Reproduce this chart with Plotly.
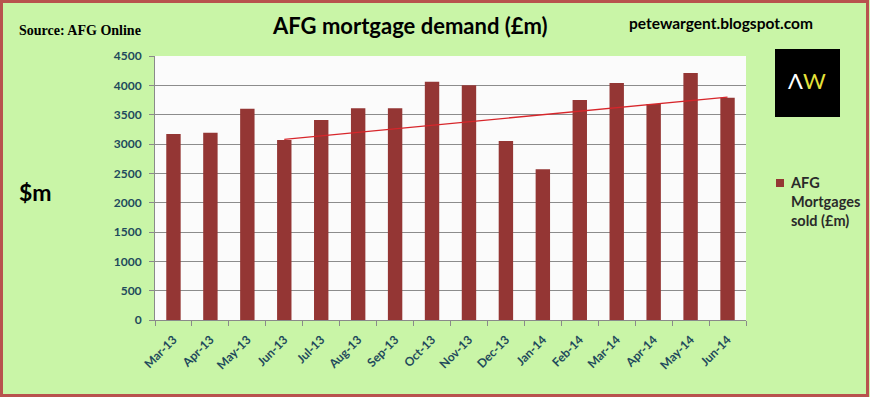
import plotly.graph_objects as go

months = ["Mar-13", "Apr-13", "May-13", "Jun-13", "Jul-13", "Aug-13", "Sep-13", "Oct-13",
          "Nov-13", "Dec-13", "Jan-14", "Feb-14", "Mar-14", "Apr-14", "May-14", "Jun-14"]
mortgages = [3170, 3190, 3600, 3070, 3410, 3610, 3610, 4060,
             4000, 3050, 2570, 3750, 4040, 3680, 4210, 3790]
trend_x = ["Jun-13", "Jun-14"]
trend_y = [3080, 3800]
y_ticks = [0, 500, 1000, 1500, 2000, 2500, 3000, 3500, 4000, 4500]
series_name = "AFG<br>Mortgages<br>sold (£m)"

W, H = 870, 397
L, R, T, B = 155, 746, 56, 320

def px(x):
    return (x - L) / (R - L)

def py(y):
    return (B - y) / (B - T)

BAR = "#943634"
GREEN = "#C9F5A7"
TICKC = "#1F4A5C"

fig = go.Figure()
fig.add_trace(go.Bar(x=months, y=mortgages, name="AFG Mortgages sold (£m)",
                     marker=dict(color=BAR, line=dict(width=0)), showlegend=False))
fig.add_trace(go.Scatter(x=trend_x, y=trend_y, mode="lines", showlegend=False,
                         line=dict(color="#D7262B", width=1.3), hoverinfo="skip"))

fig.update_layout(
    width=W, height=H,
    margin=dict(l=L, r=W - R, t=T, b=H - B, autoexpand=False),
    paper_bgcolor=GREEN, plot_bgcolor="#FBFBFB",
    bargap=0.61,
    font=dict(family="Lato, 'Open Sans', sans-serif", color="#222"),
    showlegend=False,
    xaxis=dict(type="category", tickson="boundaries", ticks="outside", ticklen=5,
               tickcolor="#8A8A8A", showline=True, linecolor="#8A8A8A", linewidth=1,
               tickangle=-45, tickfont=dict(size=12, color=TICKC, weight="bold"),
               ticklabelstandoff=7, showgrid=False, fixedrange=True),
    yaxis=dict(range=[0, 4500], tickvals=y_ticks, ticks="outside", ticklen=5,
               tickcolor="#8A8A8A", showline=True, linecolor="#8A8A8A", linewidth=1,
               gridcolor="#8C8C8C", gridwidth=1, zeroline=False,
               tickfont=dict(size=12, color=TICKC, weight="bold"), ticklabelstandoff=5),
)

shapes = [
    dict(type="rect", xref="paper", yref="paper", x0=px(1.5), x1=px(867.5), y0=py(395.5), y1=py(1.5),
         line=dict(color="#B8524E", width=3), fillcolor="rgba(0,0,0,0)", layer="above"),
    dict(type="rect", xref="paper", yref="paper", x0=px(775), x1=px(840), y0=py(117), y1=py(49),
         line=dict(width=0), fillcolor="#000000"),
    # legend swatch
    dict(type="rect", xref="paper", yref="paper", x0=px(776), x1=px(784), y0=py(187), y1=py(179),
         line=dict(width=0), fillcolor=BAR),
]
fig.update_layout(shapes=shapes)

anns = [
    dict(text="<b>AFG mortgage demand (£m)</b>", x=px(410), y=py(25), font=dict(size=22, color="#000",
         family="Lato, sans-serif")),
    dict(text="<b>Source: AFG Online</b>", x=px(17), y=py(31), xanchor="left",
         font=dict(size=14, color="#000", family="'Liberation Serif', 'DejaVu Serif', serif")),
    dict(text="<b>petewargent.blogspot.com</b>", x=px(721), y=py(23),
         font=dict(size=15.5, color="#000", family="Lato, sans-serif")),
    dict(text="<b>$m</b>", x=px(17), y=py(192), xanchor="left",
         font=dict(size=23, color="#000", family="Lato, sans-serif")),
    dict(text="<span style='color:#FFFFFF'>Λ</span><span style='color:#E6E23A'>W</span>",
         x=px(807), y=py(80), font=dict(size=22, family="Lato, sans-serif", weight="normal")),
    dict(text="<b>" + series_name + "</b>", x=px(788), y=py(172), xanchor="left", yanchor="top",
         align="left", font=dict(size=14.5, color="#2a2a2a", family="Lato, sans-serif")),
]
for a in anns:
    a.setdefault("xanchor", "center")
    a.setdefault("yanchor", "middle")
    fig.add_annotation(xref="paper", yref="paper", showarrow=False, **a)

fig.write_html("out.html", config={"displayModeBar": False, "staticPlot": True},
               post_script="document.body.style.margin='0';document.body.style.overflow='hidden';")
